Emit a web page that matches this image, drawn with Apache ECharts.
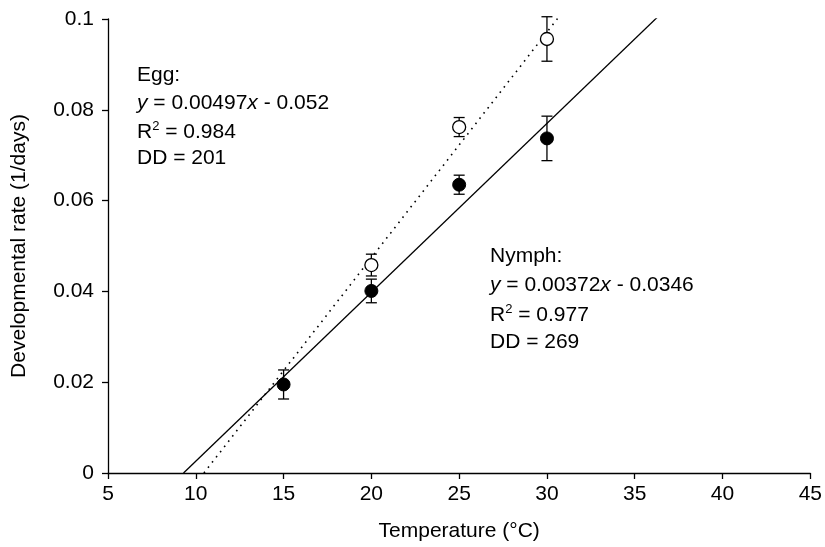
<!DOCTYPE html>
<html>
<head>
<meta charset="utf-8">
<script src="https://cdn.jsdelivr.net/npm/echarts@6/dist/echarts.min.js"></script>
<style>
  html, body { margin: 0; padding: 0; background: #fff; }
  #chart { width: 825px; height: 547px; }
</style>
</head>
<body>
<div id="chart"></div>
<script>
// Rearing temperatures (°C)
const temperatures = [15, 20, 25, 30];

// Egg development rate (1/days) with standard errors; no egg value at 15 °C
const eggTemps = [20, 25, 30];
const eggRate = [0.0458, 0.0762, 0.0956];
const eggErr = [0.0024, 0.0021, 0.0049];

// Nymph development rate (1/days) with standard errors
const nymphRate = [0.0195, 0.0401, 0.0635, 0.0737];
const nymphErr = [0.0032, 0.0026, 0.0021, 0.0049];

// Linear regressions: slope, intercept and the temperature where the line ends
const eggFit = { slope: 0.00497, intercept: -0.052, xEnd: 30.7, r2: '0.984', dd: '201' };
const nymphFit = { slope: 0.00372, intercept: -0.0346, xEnd: 36.5, r2: '0.977', dd: '269' };

// Axis ticks
const xTicks = { min: 5, max: 45, step: 5 };
const yTicks = { min: 0, max: 0.1, step: 0.02 };

function fitLine(fit) {
  const x0 = -fit.intercept / fit.slope; // lower developmental threshold
  return [x0, fit.xEnd].map(x => [x, fit.slope * x + fit.intercept]);
}

function errorData(xs, ys, es) {
  return xs.map((x, i) => [x, ys[i] - es[i], ys[i] + es[i]]);
}

function renderErrorBar(params, api) {
  const x = api.value(0);
  const lo = api.coord([x, api.value(1)]);
  const hi = api.coord([x, api.value(2)]);
  const half = 5.5;
  const style = { stroke: '#000', lineWidth: 1.3, fill: null };
  return {
    type: 'group',
    children: [
      { type: 'line', shape: { x1: lo[0], y1: lo[1], x2: hi[0], y2: hi[1] }, style },
      { type: 'line', shape: { x1: hi[0] - half, y1: hi[1], x2: hi[0] + half, y2: hi[1] }, style },
      { type: 'line', shape: { x1: lo[0] - half, y1: lo[1], x2: lo[0] + half, y2: lo[1] }, style }
    ]
  };
}

const FONT = '"Liberation Sans", Arial, Helvetica, sans-serif';
const FS = 21;
const textRich = {
  i: { fontStyle: 'italic', fontFamily: FONT, fontSize: FS, color: '#000', lineHeight: 24 },
  n: { fontFamily: FONT, fontSize: FS, color: '#000', lineHeight: 24 },
  sup: { fontFamily: FONT, fontSize: 13, color: '#000', verticalAlign: 'top', lineHeight: 24 }
};

function eqLines(name, fit) {
  const b = Math.abs(fit.intercept);
  return [
    '{n|' + name + ':}',
    '{i|y}{n| = ' + fit.slope + '}{i|x}{n| - ' + b + '}',
    '{n|R}{sup|2}{n| = ' + fit.r2 + '}',
    '{n|DD = ' + fit.dd + '}'
  ];
}

function eqGraphic(name, fit, left, top, gap) {
  return eqLines(name, fit).map((t, k) => ({
    type: 'text',
    left: left,
    top: top + k * gap,
    style: { text: t, rich: textRich, fill: '#000' }
  }));
}

const chart = echarts.init(document.getElementById('chart'), null, { renderer: 'canvas' });

const axisCommon = {
  axisLine: { lineStyle: { color: '#000', width: 1.3 } },
  axisTick: { inside: false, length: 6, lineStyle: { color: '#000', width: 1.3 } },
  splitLine: { show: false },
  axisLabel: { color: '#000', fontSize: FS, fontFamily: FONT },
  nameTextStyle: { color: '#000', fontSize: FS, fontFamily: FONT }
};

chart.setOption({
  animation: false,
  backgroundColor: '#fff',
  grid: { left: 108, right: 13, top: 19, bottom: 71, containLabel: false },
  xAxis: Object.assign({}, axisCommon, {
    type: 'value',
    min: xTicks.min, max: xTicks.max, interval: xTicks.step,
    name: 'Temperature (°C)',
    nameLocation: 'middle',
    nameGap: 48,
    axisLabel: Object.assign({}, axisCommon.axisLabel, { margin: 11 })
  }),
  yAxis: Object.assign({}, axisCommon, {
    type: 'value',
    min: yTicks.min, max: yTicks.max, interval: yTicks.step,
    name: 'Developmental rate (1/days)',
    nameLocation: 'middle',
    nameGap: 78,
    axisLabel: Object.assign({}, axisCommon.axisLabel, {
      margin: 14,
      formatter: v => String(+v.toFixed(3))
    })
  }),
  series: [
    {
      type: 'line',
      data: fitLine(nymphFit),
      symbol: 'none',
      lineStyle: { color: '#000', width: 1.3, type: 'solid' },
      z: 2
    },
    {
      type: 'line',
      data: fitLine(eggFit),
      symbol: 'none',
      lineStyle: { color: '#000', width: 1.6, type: [1.6, 5] },
      z: 2
    },
    {
      type: 'custom',
      renderItem: renderErrorBar,
      data: errorData(temperatures, nymphRate, nymphErr),
      encode: { x: 0, y: [1, 2] },
      z: 3
    },
    {
      type: 'custom',
      renderItem: renderErrorBar,
      data: errorData(eggTemps, eggRate, eggErr),
      encode: { x: 0, y: [1, 2] },
      z: 3
    },
    {
      type: 'scatter',
      data: temperatures.map((t, i) => [t, nymphRate[i]]),
      symbol: 'circle',
      symbolSize: 13,
      itemStyle: { color: '#000', borderColor: '#000', borderWidth: 1, opacity: 1 },
      z: 4
    },
    {
      type: 'scatter',
      data: eggTemps.map((t, i) => [t, eggRate[i]]),
      symbol: 'circle',
      symbolSize: 13,
      itemStyle: { color: '#fff', borderColor: '#000', borderWidth: 1.3, opacity: 1 },
      z: 4
    }
  ],
  graphic: eqGraphic('Egg', eggFit, 137, 65, 27.7).concat(eqGraphic('Nymph', nymphFit, 490, 246, 28.5))
});
</script>
</body>
</html>
